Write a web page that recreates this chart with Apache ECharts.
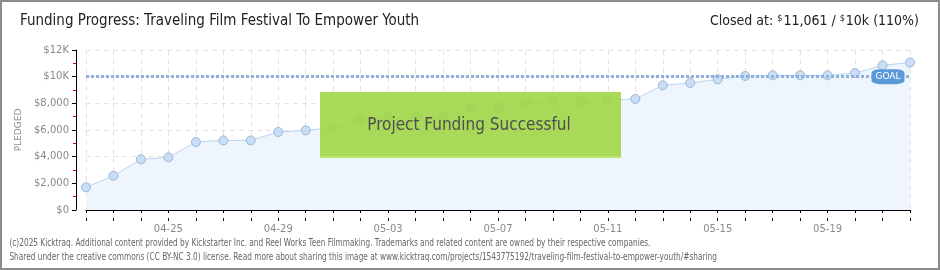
<!DOCTYPE html>
<html>
<head>
<meta charset="utf-8">
<script src="https://cdn.jsdelivr.net/npm/echarts@6/dist/echarts.min.js"></script>
<style>
html,body{margin:0;padding:0;background:#fff;}
#c{width:940px;height:270px;}
</style>
</head>
<body>
<div id="c"></div>
<script>
const dates = ['04-22','04-23','04-24','04-25','04-26','04-27','04-28','04-29','04-30','05-01','05-02','05-03','05-04','05-05','05-06','05-07','05-08','05-09','05-10','05-11','05-12','05-13','05-14','05-15','05-16','05-17','05-18','05-19','05-20','05-21','05-22'];
const pledged = [1700,2570,3800,3950,5100,5220,5220,5850,5970,6180,6780,6950,6950,6950,7670,7670,8050,8180,8180,8230,8330,9350,9530,9800,10050,10100,10100,10100,10270,10850,11061];
const goal = 10000;
const yTickLabels = {0:'$0',2000:'$2,000',4000:'$4,000',6000:'$6,000',8000:'$8,000',10000:'$10K',12000:'$12K'};
const titleText = 'Funding Progress: Traveling Film Festival To Empower Youth';
const footer1 = '(c)2025 Kicktraq. Additional content provided by Kickstarter Inc. and Reel Works Teen Filmmaking. Trademarks and related content are owned by their respective companies.';
const footer2 = 'Shared under the creative commons (CC BY-NC 3.0) license. Read more about sharing this image at www.kicktraq.com/projects/1543775192/traveling-film-festival-to-empower-youth/#sharing';

const FONT = '"Liberation Sans Narrow","DejaVu Sans Condensed","Roboto",sans-serif';
const chart = echarts.init(document.getElementById('c'), null, {renderer:'canvas'});
const axisLabelStyle = {color:'#8a8a8a', fontFamily:'"DejaVu Sans",sans-serif', fontSize:10};

chart.setOption({
  animation:false,
  grid:{left:86, right:30, top:50, bottom:60, containLabel:false},
  xAxis:[{
    type:'category', data:dates, boundaryGap:false, position:'bottom', offset:11,
    axisLine:{show:true, lineStyle:{color:'#000', width:1}},
    axisTick:{show:true, interval:0, length:3, lineStyle:{color:'#000'}},
    axisLabel:Object.assign({interval:function(i){return i%4===3;}, margin:3}, axisLabelStyle),
    splitLine:{show:true, interval:0, lineStyle:{color:'#e2e2e2', type:[5,4]}}
  },{
    type:'category', data:dates, boundaryGap:false, position:'bottom', offset:11,
    axisLine:{show:false},
    axisTick:{show:true, inside:true, interval:0, length:3, lineStyle:{color:'#000'}},
    axisLabel:{show:false}, splitLine:{show:false}
  }],
  yAxis:{
    type:'value', min:0, max:12000, interval:2000, offset:10,
    name:'PLEDGED', nameLocation:'middle', nameGap:52, nameRotate:90,
    nameTextStyle:{color:'#8a8a8a', fontFamily:'"DejaVu Sans",sans-serif', fontSize:9},
    axisLine:{show:true, lineStyle:{color:'#000', width:1}},
    axisTick:{show:true, length:4, lineStyle:{color:'#000'}},
    minorTick:{show:true, splitNumber:2, length:3, lineStyle:{color:'#e00000'}},
    axisLabel:Object.assign({margin:7, formatter:function(v){return yTickLabels[v]!==undefined?yTickLabels[v]:'';}}, axisLabelStyle),
    splitLine:{show:true, lineStyle:{color:'#e2e2e2', type:[5,4]}}
  },
  series:[{
    type:'line', data:pledged, xAxisIndex:0,
    symbol:'circle', symbolSize:9,
    itemStyle:{color:'#c8def6', borderColor:'#9db6d2', borderWidth:1},
    lineStyle:{color:'#b8d5f2', width:1},
    areaStyle:{color:'#eef5fd', opacity:1},
    z:3,
    markLine:{
      silent:true, symbol:['none','none'],
      lineStyle:{color:'#8fb0d8', width:3, type:[3,2]},
      label:{show:false},
      data:[{yAxis:goal}]
    },
    markPoint:{
      silent:true,
      symbol:'roundRect', symbolSize:[33,15], symbolOffset:[-22,0],
      itemStyle:{color:'#5b9ad8', borderWidth:0},
      label:{show:true, position:'inside', formatter:'GOAL', color:'#fff',
        fontFamily:'"DejaVu Sans",sans-serif', fontSize:9},
      data:[{coord:[dates[dates.length-1], goal]}]
    }
  }],
  graphic:[
    {type:'rect', shape:{x:1,y:1,width:938,height:268}, style:{fill:'none', stroke:'#8c8c8c', lineWidth:2}, z:100},
    {type:'text', left:20, top:14, style:{text:titleText, fill:'#222', font:'15px '+FONT}},
    {type:'text', right:21, top:14, style:{
      rich:{
        a:{fontSize:14, fontFamily:FONT, fill:'#222'},
        s:{fontSize:9, fontFamily:FONT, fill:'#222', verticalAlign:'top', padding:[0,1,6,0]}
      },
      text:'{a|Closed at: }{s|$}{a|11,061 / }{s|$}{a|10k (110%)}'
    }},
    {type:'rect', shape:{x:320, y:92, width:301, height:66}, style:{fill:'rgba(160,214,70,0.9)'}, z:50},
    {type:'rect', shape:{x:320, y:156, width:301, height:2}, style:{fill:'rgba(190,230,120,0.9)'}, z:51},
    {type:'text', x:469, y:126, style:{text:'Project Funding Successful', fill:'#4f4f4f', font:'17px '+FONT,
      align:'center', verticalAlign:'middle', textShadowColor:'#fff', textShadowOffsetX:1, textShadowOffsetY:1, textShadowBlur:0}, z:52},
    {type:'text', x:8, y:238, scaleX:0.82, originX:8, style:{text:footer1, fill:'#666', font:'10px '+FONT}},
    {type:'text', x:8, y:252, scaleX:0.82, originX:8, style:{text:footer2, fill:'#666', font:'10px '+FONT}}
  ]
});
</script>
</body>
</html>
